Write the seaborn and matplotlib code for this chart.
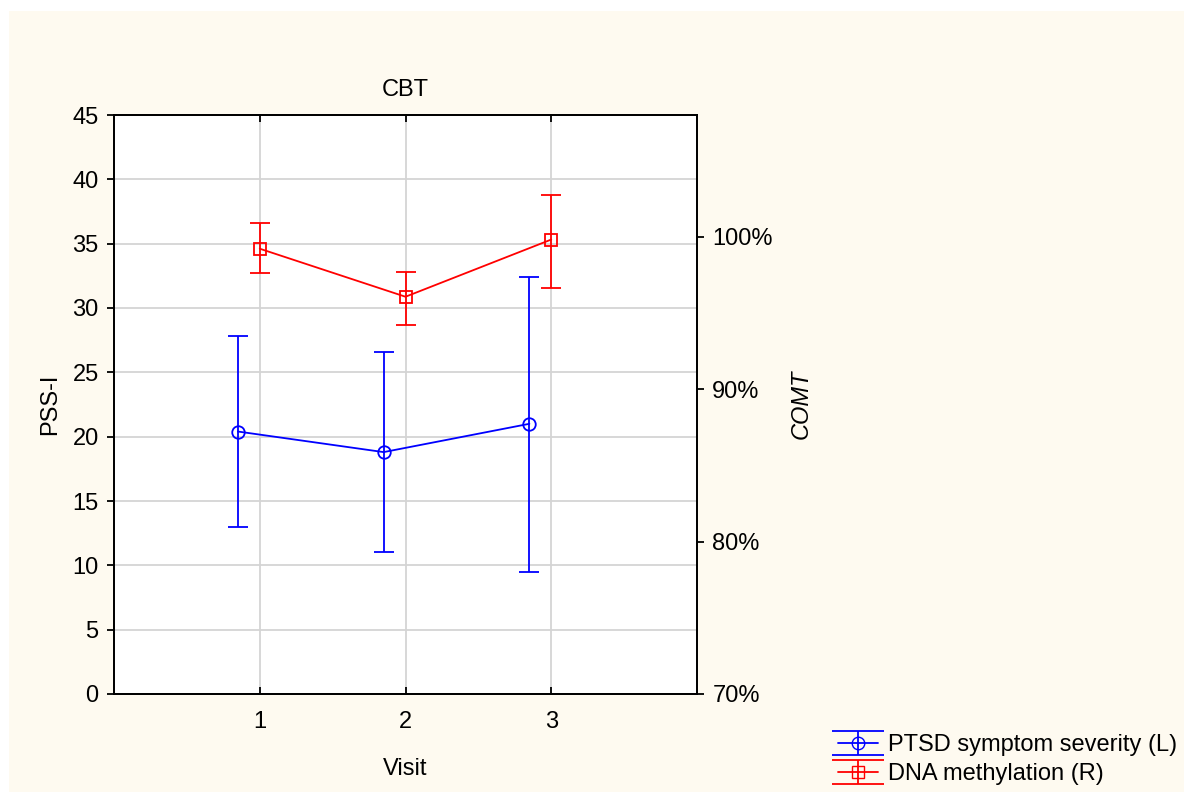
import numpy as np
import pandas as pd
import matplotlib
matplotlib.use("Agg")
import matplotlib.pyplot as plt
import seaborn as sns
from matplotlib.patches import Rectangle

# ---- data ----
visits = [1, 2, 3]
visit_labels = ["1", "2", "3"]
ptsd_mean = [20.4, 18.8, 21.0]
ptsd_low = [13.0, 11.0, 9.5]
ptsd_high = [27.8, 26.6, 32.4]
meth_mean = [99.2, 96.05, 99.8]
meth_low = [97.6, 94.2, 96.6]
meth_high = [100.9, 97.7, 102.7]
left_ticks = [0, 5, 10, 15, 20, 25, 30, 35, 40, 45]
right_ticks = [70, 80, 90, 100]
right_tick_labels = ["70%", "80%", "90%", "100%"]

sns.set_theme(style="white")
plt.rcParams['font.family'] = ['Liberation Sans', 'DejaVu Sans']
plt.rcParams['text.color'] = 'black'
plt.rcParams['axes.labelcolor'] = 'black'

FS = 17
BLUE = "#0000ff"
RED = "#ff0000"
CREAM = "#fefaf0"

fig = plt.figure(figsize=(11.84, 7.92), dpi=100)
fig.patch.set_facecolor("white")
fig.patches.append(Rectangle((9 / 1184, 0), 1 - 9 / 1184, 1 - 11 / 792,
                             transform=fig.transFigure, facecolor=CREAM,
                             edgecolor="none", zorder=-10))

W, H = 1184, 792
ax = fig.add_axes([114 / W, 1 - 694 / H, (697 - 114) / W, (694 - 115) / H])
ax.set_facecolor("white")
ax2 = ax.twinx()

df_p = pd.DataFrame({"visit": np.array(visits) - 0.15, "val": ptsd_mean})
df_m = pd.DataFrame({"visit": np.array(visits, dtype=float), "val": meth_mean})

# PTSD (left axis)
ax.errorbar(df_p["visit"], df_p["val"],
            yerr=[np.array(ptsd_mean) - np.array(ptsd_low),
                  np.array(ptsd_high) - np.array(ptsd_mean)],
            fmt="none", ecolor=BLUE, elinewidth=1.3, capsize=7, capthick=1.3, zorder=3)
sns.lineplot(data=df_p, x="visit", y="val", ax=ax, color=BLUE, marker="o",
             markersize=9, markerfacecolor="none", markeredgecolor=BLUE,
             markeredgewidth=1.3, linewidth=1.3, zorder=4)

# Methylation (right axis)
ax2.errorbar(df_m["visit"], df_m["val"],
             yerr=[np.array(meth_mean) - np.array(meth_low),
                   np.array(meth_high) - np.array(meth_mean)],
             fmt="none", ecolor=RED, elinewidth=1.3, capsize=7, capthick=1.3, zorder=3)
sns.lineplot(data=df_m, x="visit", y="val", ax=ax2, color=RED, marker="s",
             markersize=8, markerfacecolor="none", markeredgecolor=RED,
             markeredgewidth=1.3, linewidth=1.3, zorder=4)

ax.set_xlim(0, 4)
ax.set_ylim(0, 45)
ax2.set_ylim(70, 70 + 579 / 15.25)
ax.set_xticks(visits)
ax.set_xticklabels(visit_labels)
ax.set_yticks(left_ticks)
ax2.set_yticks(right_ticks)
ax2.set_yticklabels(right_tick_labels)

ax.grid(True, color="#d4d4d4", linewidth=1.3)
ax.set_axisbelow(True)
ax2.grid(False)

for a in (ax, ax2):
    for s in a.spines.values():
        s.set_color("black")
        s.set_linewidth(1.3)

ax.tick_params(axis="x", direction="in", length=5, width=1.3, top=True, bottom=True,
               labelsize=FS, pad=12, colors="black")
ax.tick_params(axis="y", direction="out", length=5, width=1.3, left=True,
               labelsize=FS, pad=6, colors="black")
ax2.tick_params(axis="y", direction="out", length=5, width=1.3, right=True,
                labelsize=FS, pad=6, colors="black")

ax.set_xlabel("Visit", fontsize=FS, labelpad=18)
ax.set_ylabel("PSS-I", fontsize=FS, labelpad=8)
ax2.set_ylabel("COMT", fontsize=FS, style="italic", labelpad=12)
ax.set_title("CBT", fontsize=FS, pad=14)

# legend with errorbar proxies
h1 = ax.errorbar([np.nan], [np.nan], yerr=[1], color=BLUE, marker="o", markersize=9,
                 markerfacecolor="none", markeredgecolor=BLUE, linewidth=1.3,
                 elinewidth=1.3, capsize=19, capthick=1.3)
h2 = ax.errorbar([np.nan], [np.nan], yerr=[1], color=RED, marker="s", markersize=8,
                 markerfacecolor="none", markeredgecolor=RED, linewidth=1.3,
                 elinewidth=1.3, capsize=19, capthick=1.3)
fig.legend([h1, h2], ["PTSD symptom severity (L)", "DNA methylation (R)"],
           loc="upper left", bbox_to_anchor=(838 / W, 1 - 734 / H),
           frameon=False, fontsize=FS, handlelength=1.7, handletextpad=0.4,
           labelspacing=0.3, borderaxespad=0, borderpad=0)

fig.savefig("out.png", dpi=100, facecolor=fig.get_facecolor())
